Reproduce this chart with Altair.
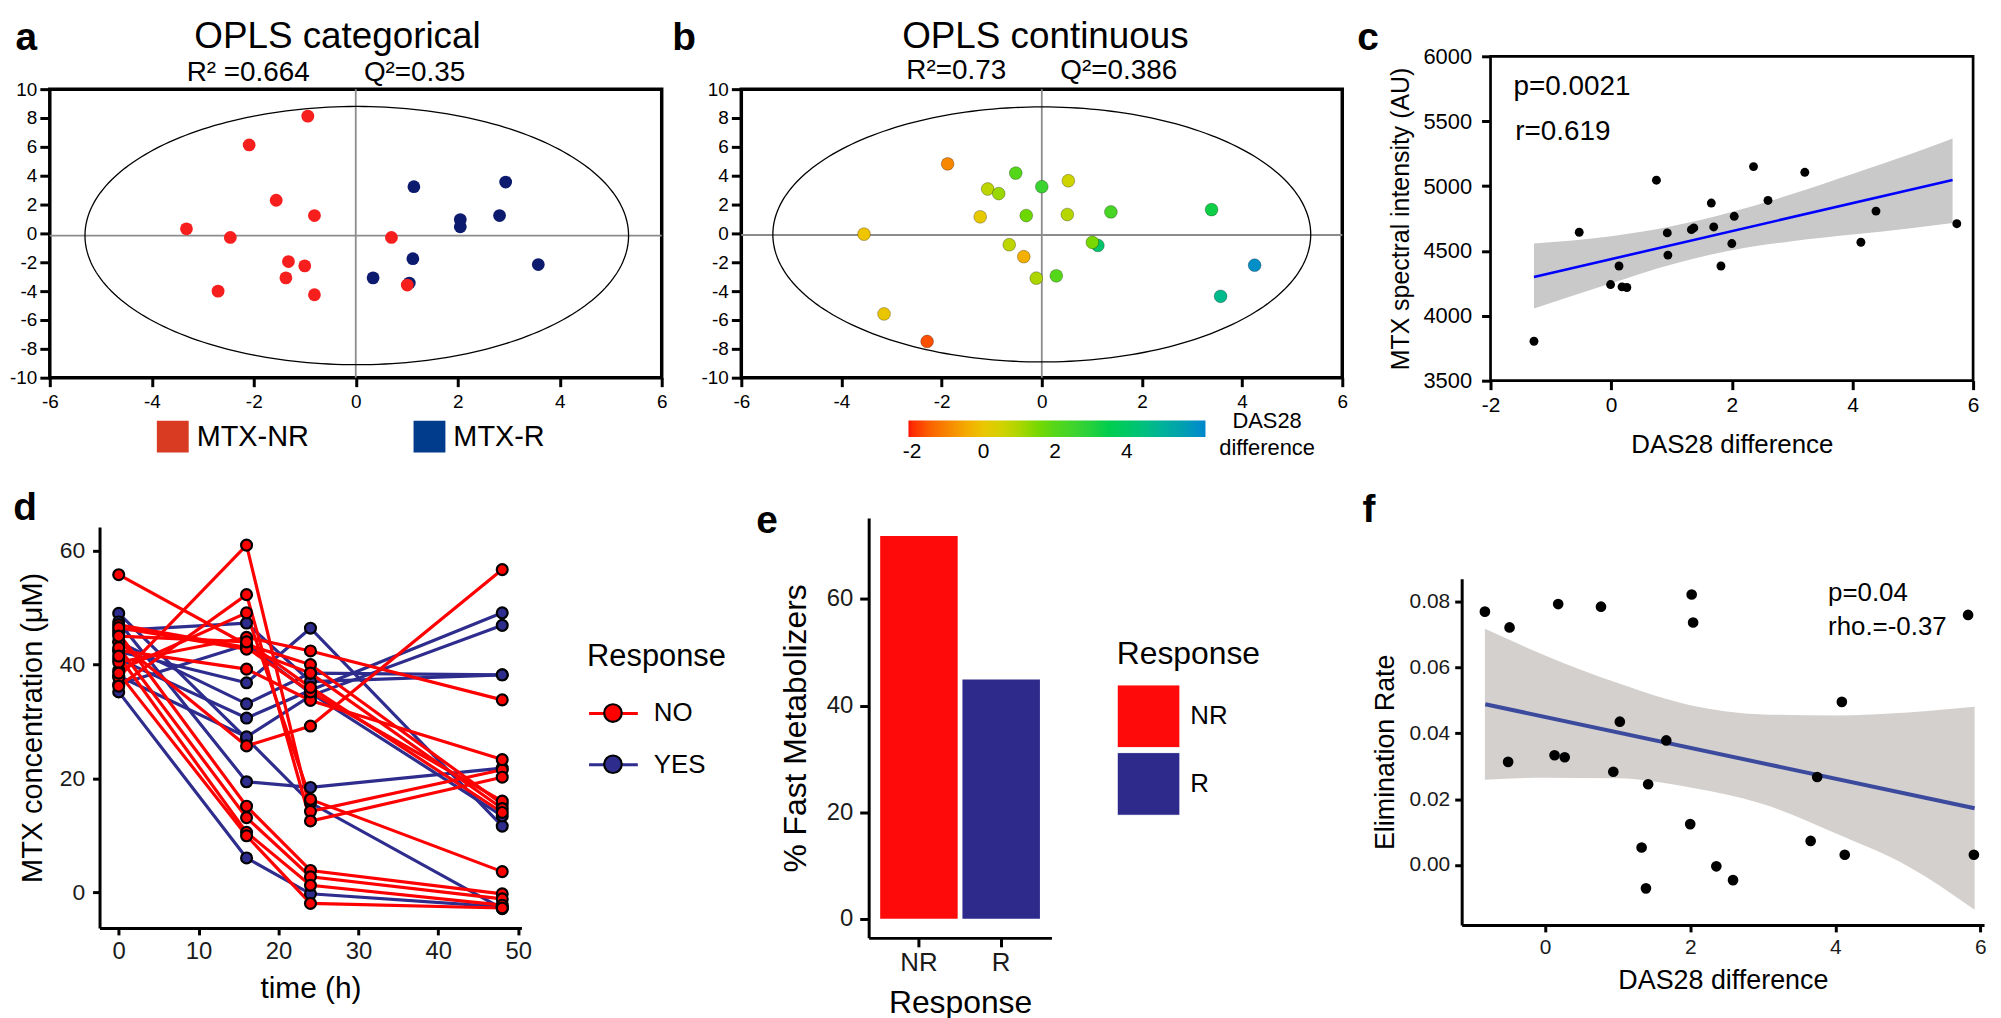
import altair as alt
import numpy as np
import pandas as pd

FONT = "Liberation Sans"
NB = "\u00a0"

# ---------------- panel a : OPLS categorical ----------------
a_nr_x = [-0.94, -2.09, -1.56, -0.81, -3.32, -2.46, 0.70, -1.32, -1.00, -1.37, -2.70, -0.81, 1.01]
a_nr_y = [8.13, 6.13, 2.30, 1.24, 0.32, -0.28, -0.28, -1.95, -2.25, -3.08, -4.00, -4.25, -3.58]
a_r_x = [1.14, 2.94, 2.05, 2.05, 2.82, 1.12, 3.58, 0.34, 1.05]
a_r_y = [3.24, 3.56, 0.96, 0.46, 1.24, -1.75, -2.16, -3.08, -3.44]
a_ellipse = [0.02, -0.15, 5.33, 8.95]          # centre x, centre y, radius x, radius y
a_hline = [-0.15]
a_vline = [0.0]
a_groups = ["NR", "R"]
a_point_colors = ["#f71e1e", "#0d1b6e"]
a_legend_labels = ["MTX-NR", "MTX-R"]
a_legend_colors = ["#d93a22", "#003b8c"]
a_title = "OPLS categorical"
a_subtitle = "R² =0.664" + NB * 7 + "Q²=0.35"

# ---------------- panel b : OPLS continuous ----------------
b_x = [-1.88, -0.52, 0.00, 0.53, -1.08, -0.86, -1.23, -0.31, 0.51, 1.38, 3.39, -3.55,
       -0.65, 1.12, 1.01, -0.36, -0.11, 0.29, 4.25, 3.57, -3.15, -2.29]
b_y = [4.82, 4.18, 3.24, 3.65, 3.08, 2.76, 1.15, 1.24, 1.31, 1.49, 1.65, -0.05,
       -0.78, -0.83, -0.62, -1.61, -3.10, -2.94, -2.20, -4.36, -5.58, -7.49]
b_das = [-1.0, 2.0, 2.6, 0.6, 0.8, 1.2, 0.1, 1.6, 0.9, 2.3, 3.3, -0.1,
         0.8, 4.2, 1.5, -0.4, 1.0, 2.0, 6.0, 4.7, 0.0, -1.7]
b_ellipse = [0.0, -0.07, 5.37, 8.84]
b_hline = [-0.11]
b_vline = [0.0]
b_color_stops = [-2.1, -1.1, -0.1, 0.6, 1.7, 3.2, 4.3, 5.35, 6.2]
b_color_range = ["#ff1200", "#f77f00", "#efc400", "#cdd400", "#5fd800",
                 "#14d040", "#00c46e", "#00a6a4", "#0086cc"]
b_legend_values = [-2, 0, 2, 4]
b_legend_title = ["DAS28", "difference"]
b_title = "OPLS continuous"
b_subtitle = "R²=0.73" + NB * 7 + "Q²=0.386"

# ---------------- panel c : MTX intensity vs DAS28 ----------------
c_x = [-1.28, -0.53, -0.01, 0.13, 0.18, 0.26, 0.75, 0.93, 0.94, 1.33, 1.37, 1.66,
       1.70, 1.82, 2.00, 2.04, 2.36, 2.60, 3.21, 4.14, 4.39, 5.73]
c_y = [3804, 4644, 4241, 4384, 4223, 4218, 5045, 4639, 4468, 4664, 4677, 4869,
       4685, 4384, 4557, 4767, 5150, 4889, 5106, 4567, 4807, 4710]
c_fit_x = [-1.28, 5.66]
c_fit_y = [4299, 5047]
c_band_x = [-1.28, 0, 1, 2, 3, 4, 5, 5.66]
c_band_lo = [4057, 4251, 4396, 4506, 4575, 4626, 4677, 4716]
c_band_hi = [4557, 4613, 4690, 4800, 4938, 5093, 5252, 5367]
c_annot_text = ["p=0.0021", "r=0.619"]
c_annot_x = [-1.62, -1.59]
c_annot_y = [5699, 5354]

# ---------------- panel d : MTX concentration over time ----------------
d_times = [0, 16, 24, 48]
d_no = [
    [55.8, 43.5, 40.0, 15.5],
    [37.8, 61.0, 14.2, 21.5],
    [36.2, 52.3, 12.5, 20.2],
    [39.0, 49.1, 16.3, 3.6],
    [44.0, 25.7, 29.2, 56.7],
    [40.4, 44.8, 42.4, 33.8],
    [42.5, 39.2, 33.7, 23.3],
    [45.5, 15.1, 3.8, -0.3],
    [43.0, 13.1, 2.7, -1.2],
    [41.5, 10.5, 1.2, -2.3],
    [38.5, 9.9, -2.0, -2.8],
    [47.0, 43.0, 35.2, 16.0],
    [46.5, 42.7, 38.5, 14.7],
    [45.0, 44.0, 36.0, 14.0],
]
d_yes = [
    [49.0, 27.0, 15.7, -2.9],
    [47.5, 19.4, 18.4, 21.8],
    [35.2, 6.0, -0.3, -2.6],
    [46.0, 47.3, 37.0, 38.2],
    [42.3, 36.8, 46.4, 11.6],
    [44.0, 33.1, 38.5, 38.2],
    [41.0, 30.6, 35.5, 49.1],
    [38.0, 27.3, 34.5, 46.9],
    [36.5, 43.5, 35.0, 13.4],
]
d_colors = ["#ff0000", "#2e2d8e"]

# ---------------- panel e : fast metabolizers ----------------
e_groups = ["NR", "R"]
e_values = [71.8, 44.9]
e_colors = ["#ff0a0a", "#2d2a8c"]

# ---------------- panel f : elimination rate ----------------
f_x = [-0.83, -0.49, 0.18, 0.77, 2.02, 2.04, 5.83, 4.09, 1.03, 1.67, -0.51, 0.13,
       0.27, 0.94, 1.42, 3.75, 2.00, 1.33, 3.66, 4.13, 5.91, 2.36, 2.59, 1.39]
f_y = [0.0769, 0.0721, 0.0792, 0.0784, 0.0821, 0.0736, 0.0759, 0.0495, 0.0435, 0.0378,
       0.0313, 0.0333, 0.0327, 0.0283, 0.0245, 0.0267, 0.0124, 0.0053, 0.0073, 0.0031,
       0.0031, -0.0004, -0.0046, -0.0071]
f_fit_x = [-0.825, 5.92]
f_fit_y = [0.0488, 0.0172]
f_band_x = [-0.83, 0, 1.0, 2.0, 3.0, 4.0, 5.0, 5.92]
f_band_lo = [0.0259, 0.0265, 0.0263, 0.0235, 0.0185, 0.0096, -0.0004, -0.0136]
f_band_hi = [0.0717, 0.0636, 0.0552, 0.0485, 0.0457, 0.0454, 0.0463, 0.0480]
f_annot_text = ["p=0.04", "rho.=-0.37"]
f_annot_x = [3.9, 3.9]
f_annot_y = [0.0802, 0.0699]

# ---------------- layout: plot sizes, invisible cells and anchors ----------------
A_W, A_H = 615, 290
B_W = 604
C_W, C_H = 485, 326
D_W, D_H = 424, 403
E_W, E_H = 183.7, 422
F_W, F_H = 525, 348
#          left   top   right  bottom   (px kept around each plot area)
CELL_A = (40.4, 82.5, 6.0, 89.0)
CELL_B = (70.0, 82.5, 8.8, 89.0)
CELL_C = (136.0, 47.0, 18.0, 86.3)
CELL_D = (91.6, 40.0, 226.7, 81.0)
CELL_E = (120.0, 5.0, 305.2, 82.0)
CELL_F = (105.0, 90.0, 2.0, 84.0)
LIFT_A, LIFT_B, LIFT_C = 0.5, 0.5, 2.7       # height of invisible anchor above each panel
LIFT_D, LIFT_E, LIFT_F = 16.0, 30.7, 17.6
TITLE_Y = -41.5                              # baseline of the panel titles (px above plot)


def box_axis(values, fs, tick, pad, expr="toString(datum.value)", **kw):
    return alt.Axis(values=values, grid=False, domain=False, ticks=True, tickSize=tick,
                    tickWidth=3, tickColor="black", labelFontSize=fs, labelColor="black",
                    labelPadding=pad, labelFlush=False, labelOverlap=False, labelExpr=expr,
                    labelFont=FONT, **kw)


def classic_axis(fs, tick, pad, title, tfs, tpad, **kw):
    return alt.Axis(title=title, titleFontSize=tfs, titleFontWeight="normal", titleColor="black",
                    titlePadding=tpad, titleFont=FONT, grid=False, domain=True,
                    domainColor="black", domainWidth=3, ticks=True, tickSize=tick, tickWidth=3,
                    tickColor="black", labelFontSize=fs, labelColor="#1a1a1a", labelPadding=pad,
                    labelFlush=False, labelOverlap=False, labelFont=FONT, **kw)


def qx(field, domain, axis):
    return alt.X(f"{field}:Q", scale=alt.Scale(domain=domain, nice=False, zero=False), axis=axis)


def qy(field, domain, axis):
    return alt.Y(f"{field}:Q", scale=alt.Scale(domain=domain, nice=False, zero=False), axis=axis)


def label(txt, px, py, size, bold=False, align="left"):
    return alt.Chart(pd.DataFrame({"t": [txt]})).mark_text(
        fontSize=size, fontWeight="bold" if bold else "normal", align=align, baseline="alphabetic",
        color="black", font=FONT).encode(x=alt.value(px), y=alt.value(py), text="t:N")


def letter(ch, px, py):
    return label(ch, px, py, 39, bold=True)


def cell(w, h, box):
    left, top, right, bottom = box
    return alt.Chart(pd.DataFrame({"c": [0]})).mark_rect(opacity=0).encode(
        x=alt.value(-left), x2=alt.value(w + right), y=alt.value(-top), y2=alt.value(h + bottom))


def anchor(w, h):
    return alt.Chart(pd.DataFrame({"c": [0]})).mark_rect(opacity=0).encode(
        x=alt.value(0), x2=alt.value(w), y=alt.value(0), y2=alt.value(h)).properties(width=w, height=h)


def ellipse_df(p, n=240):
    cx, cy, rx, ry = p
    t = np.linspace(0, 2 * np.pi, n + 1)
    return pd.DataFrame({"x": cx + rx * np.cos(t), "y": cy + ry * np.sin(t), "i": np.arange(n + 1)})


# ======== panel a ========
xA = qx("x", [-6, 6], box_axis([-6, -4, -2, 0, 2, 4, 6], 19, 9, 6, title=None))
yA = qy("y", [-10, 10], box_axis(list(range(-10, 11, 2)), 19, 10, 3, title=None))
a_df = pd.DataFrame({"x": a_r_x + a_nr_x, "y": a_r_y + a_nr_y,
                     "g": ["R"] * len(a_r_x) + ["NR"] * len(a_nr_x)})
panel_a = alt.layer(
    cell(A_W, A_H, CELL_A),
    alt.Chart(pd.DataFrame({"x": a_vline})).mark_rule(color="#8c8c8c", strokeWidth=1.8).encode(x=xA),
    alt.Chart(pd.DataFrame({"y": a_hline})).mark_rule(color="#8c8c8c", strokeWidth=1.8).encode(y=yA),
    alt.Chart(ellipse_df(a_ellipse)).mark_line(color="black", strokeWidth=1.3).encode(x=xA, y=yA, order="i:Q"),
    alt.Chart(a_df).mark_circle(size=165, opacity=1).encode(
        x=xA, y=yA,
        color=alt.Color("g:N", scale=alt.Scale(domain=a_groups, range=a_point_colors), legend=None)),
    alt.Chart(pd.DataFrame({"lab": a_legend_labels})).transform_filter("datum.lab == 'none'")
    .mark_square(size=1024, opacity=1).encode(
        x=alt.value(0), y=alt.value(0),
        fill=alt.Fill("lab:N", scale=alt.Scale(domain=a_legend_labels, range=a_legend_colors),
                      legend=alt.Legend(title=None, orient="none", legendX=107.6, legendY=333.3,
                                        direction="horizontal", symbolType="square", symbolSize=1024,
                                        symbolStrokeWidth=0, symbolOpacity=1, labelFontSize=29,
                                        labelOffset=8, columnPadding=105, padding=0,
                                        labelColor="black", labelFont=FONT))),
    label(a_title, 145.2, TITLE_Y, 37),
    label(a_subtitle, 137.6, -8, 28),
    letter("a", -34.4, -39.3),
).properties(width=A_W, height=A_H, view=alt.ViewBackground(stroke="black", strokeWidth=3.5))

# ======== panel b ========
xB = qx("x", [-6, 6], box_axis([-6, -4, -2, 0, 2, 4, 6], 19, 9, 6, title=None))
yB = qy("y", [-10, 10], box_axis(list(range(-10, 11, 2)), 19, 10, 3, title=None))
b_df = pd.DataFrame({"x": b_x, "y": b_y, "d": b_das})
panel_b = alt.layer(
    cell(B_W, A_H, CELL_B),
    alt.Chart(pd.DataFrame({"x": b_vline})).mark_rule(color="#8c8c8c", strokeWidth=1.8).encode(x=xB),
    alt.Chart(pd.DataFrame({"y": b_hline})).mark_rule(color="#8c8c8c", strokeWidth=1.8).encode(y=yB),
    alt.Chart(ellipse_df(b_ellipse)).mark_line(color="black", strokeWidth=1.3).encode(x=xB, y=yB, order="i:Q"),
    alt.Chart(b_df).mark_circle(size=165, opacity=1, stroke="black", strokeWidth=0.8, strokeOpacity=0.35).encode(
        x=xB, y=yB,
        color=alt.Color("d:Q", scale=alt.Scale(domain=b_color_stops, range=b_color_range, clamp=True),
                        legend=alt.Legend(orient="none", legendX=168, legendY=333, direction="horizontal",
                                          gradientLength=298.5, gradientThickness=16.6,
                                          gradientStrokeWidth=0, title=None, values=b_legend_values,
                                          labelFontSize=21, labelOffset=4, labelColor="black",
                                          labelExpr="toString(datum.value)",
                                          labelOverlap=False, padding=0, labelFont=FONT))),
    label(b_legend_title[0], 528.4, 341, 22, align="center"),
    label(b_legend_title[1], 528.4, 368, 22, align="center"),
    label(b_title, 161.7, TITLE_Y, 37),
    label(b_subtitle, 165.9, -10.3, 28),
    letter("b", -69.4, -39.3),
).properties(width=B_W, height=A_H, view=alt.ViewBackground(stroke="black", strokeWidth=3.5))

# ======== panel c ========
xC = qx("x", [-2, 6], box_axis([-2, 0, 2, 4, 6], 21, 9, 5, title="DAS28 difference",
                                 titleFontSize=26, titleFontWeight="normal", titleColor="black",
                                 titlePadding=16, titleFont=FONT))
yC = qy("y", [3500, 6000], box_axis([3500, 4000, 4500, 5000, 5500, 6000], 22, 9, 10,
                                    title="MTX spectral intensity (AU)", titleFontSize=25,
                                    titleFontWeight="normal", titleColor="black", titlePadding=10,
                                    titleFont=FONT))
panel_c = alt.layer(
    cell(C_W, C_H, CELL_C),
    alt.Chart(pd.DataFrame({"x": c_band_x, "y": c_band_lo, "hi": c_band_hi})).mark_area(
        color="#c9c9c9", opacity=1, interpolate="monotone").encode(x=xC, y=yC, y2="hi:Q"),
    alt.Chart(pd.DataFrame({"x": c_fit_x, "y": c_fit_y})).mark_line(color="#0000ff", strokeWidth=2.6).encode(x=xC, y=yC),
    alt.Chart(pd.DataFrame({"x": c_x, "y": c_y})).mark_circle(size=80, color="black", opacity=1).encode(x=xC, y=yC),
    alt.Chart(pd.DataFrame({"x": c_annot_x, "y": c_annot_y, "t": c_annot_text})).mark_text(
        fontSize=28, align="left", baseline="alphabetic", color="black", font=FONT).encode(x=xC, y=yC, text="t:N"),
    letter("c", -134, -6),
).properties(width=C_W, height=C_H, view=alt.ViewBackground(stroke="black", strokeWidth=2.7))

# ======== panel d ========
rows = []
for lab, series in (("YES", d_yes), ("NO", d_no)):
    for k, vals in enumerate(series):
        for t, v in zip(d_times, vals):
            rows.append({"id": f"{lab}{k}", "Response": lab, "RespP": lab, "t": t, "v": v})
d_df = pd.DataFrame(rows)
xD = qx("t", [-2.4, 50.4], classic_axis(24, 7, 5, "time (h)", 30, 10, values=[0, 10, 20, 30, 40, 50]))
yD = qy("v", [-6.3, 64.2], classic_axis(23, 7, 8, "MTX concentration (μM)", 29, 12, values=[0, 20, 40, 60]))
LINE_SYM = "M-1,0L-0.36,0M0.36,0L1,0"
CIRC_SYM = "M-1,0L-1,0M1,0L1,0M0.36,0A0.36,0.36,0,1,1,-0.36,0A0.36,0.36,0,1,1,0.36,0Z"
leg_common = dict(orient="none", legendX=490, legendY=116, title="Response", titleFontSize=31,
                  titleFontWeight="normal", labelFontSize=26, symbolSize=2401, labelOffset=14,
                  rowPadding=11.5, titlePadding=14, padding=0, labelFont=FONT, titleFont=FONT)
panel_d = alt.layer(
    cell(D_W, D_H, CELL_D),
    alt.Chart(d_df).mark_line(strokeWidth=3.2).encode(
        x=xD, y=yD, detail="id:N",
        stroke=alt.Stroke("Response:N", scale=alt.Scale(range=d_colors),
                          legend=alt.Legend(symbolType=LINE_SYM, symbolStrokeWidth=3.2,
                                            titleColor="black", labelColor="black", **leg_common))),
    alt.Chart(d_df).mark_point(filled=True, size=120, stroke="black", strokeWidth=2.2, opacity=1).encode(
        x=xD, y=yD,
        fill=alt.Fill("RespP:N", scale=alt.Scale(range=d_colors),
                      legend=alt.Legend(symbolType=CIRC_SYM, symbolStrokeColor="black",
                                        symbolStrokeWidth=2.2, symbolOpacity=1,
                                        titleColor="transparent", labelColor="transparent",
                                        **leg_common))),
    letter("d", -86.6, -7.4),
).properties(width=D_W, height=D_H)

# ======== panel e ========
e_df = pd.DataFrame({"Response": e_groups, "pct": e_values})
xE = alt.X("Response:N", scale=alt.Scale(paddingInner=0.058, paddingOuter=0.14),
           axis=classic_axis(26, 9, 3, "Response", 32, 12, labelAngle=0))
yE = qy("pct", [-3.6, 75.2], classic_axis(24, 9, 7, "% Fast Metabolizers", 32, 14, values=[0, 20, 40, 60]))
panel_e = alt.layer(
    cell(E_W, E_H, CELL_E),
    alt.Chart(e_df).mark_bar().encode(
        x=xE, y=yE, y2=alt.datum(0),
        fill=alt.Fill("Response:N", scale=alt.Scale(domain=e_groups, range=e_colors),
                      legend=alt.Legend(orient="none", legendX=249.3, legendY=121.3, title="Response",
                                        titleFontSize=32, titleFontWeight="normal", titleColor="black",
                                        labelFontSize=26, labelColor="black", symbolType="square",
                                        symbolSize=3969, symbolStrokeColor="white", symbolStrokeWidth=1,
                                        rowPadding=0, titlePadding=14, labelOffset=10, padding=0,
                                        labelFont=FONT, titleFont=FONT))),
    letter("e", -112.9, 14.8),
).properties(width=E_W, height=E_H)

# ======== panel f ========
xF = qx("x", [-1.15, 6.05], classic_axis(21, 7, 5, "DAS28 difference", 27, 10, values=[0, 2, 4, 6]))
yF = qy("y", [-0.0182, 0.0869], classic_axis(21, 7, 5, "Elimination Rate", 27, 10,
                                             values=[0, 0.02, 0.04, 0.06, 0.08],
                                             labelExpr="format(datum.value, '.2f')"))
panel_f = alt.layer(
    cell(F_W, F_H, CELL_F),
    alt.Chart(pd.DataFrame({"x": f_band_x, "y": f_band_lo, "hi": f_band_hi})).mark_area(
        color="#d3d0ce", opacity=1, interpolate="monotone").encode(x=xF, y=yF, y2="hi:Q"),
    alt.Chart(pd.DataFrame({"x": f_fit_x, "y": f_fit_y})).mark_line(color="#3c4a9e", strokeWidth=4).encode(x=xF, y=yF),
    alt.Chart(pd.DataFrame({"x": f_x, "y": f_y})).mark_circle(size=115, color="black", opacity=1).encode(x=xF, y=yF),
    alt.Chart(pd.DataFrame({"x": f_annot_x, "y": f_annot_y, "t": f_annot_text})).mark_text(
        fontSize=26, align="left", baseline="alphabetic", color="black", font=FONT).encode(x=xF, y=yF, text="t:N"),
    letter("f", -99.6, -57.1),
).properties(width=F_W, height=F_H)

# ======== assemble ========
IND = dict(color="independent", fill="independent", stroke="independent")


def column(lift, panel):
    return alt.vconcat(anchor(1, lift), panel, spacing=0).resolve_scale(**IND).resolve_legend(**IND)


row1 = alt.hconcat(anchor(1, 1), column(LIFT_A, panel_a), column(LIFT_B, panel_b),
                   column(LIFT_C, panel_c), spacing=0).resolve_scale(**IND).resolve_legend(**IND)
row2 = alt.hconcat(anchor(1, 1), column(LIFT_D, panel_d), column(LIFT_E, panel_e),
                   column(LIFT_F, panel_f), spacing=0).resolve_scale(**IND).resolve_legend(**IND)
chart = alt.vconcat(row1, row2, spacing=0,
                    padding={"top": -8, "left": -4, "right": 0, "bottom": 0}).resolve_scale(
    **IND).resolve_legend(**IND).configure(font=FONT).configure_view(
    stroke="transparent").configure_axis(labelFont=FONT, titleFont=FONT).configure_legend(
    labelFont=FONT, titleFont=FONT)

chart.save("out.html", embed_options={"renderer": "svg", "actions": False})
